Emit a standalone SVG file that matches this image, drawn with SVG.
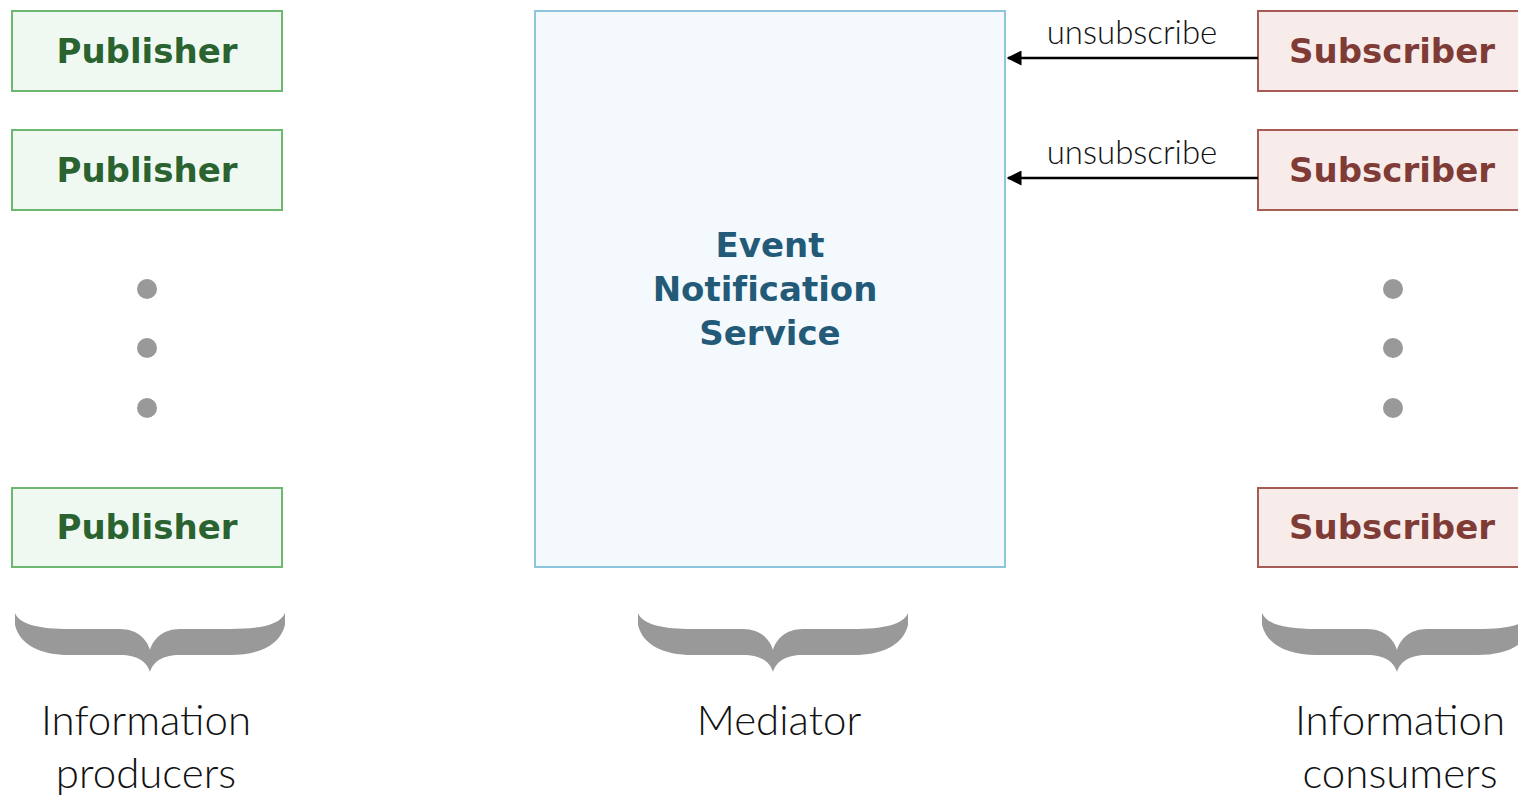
<svg xmlns="http://www.w3.org/2000/svg" width="1518" height="795" viewBox="0 0 1518 795">
<style>
.pub rect{fill:#f0f9f1;stroke:#6db871;stroke-width:2}
.sub rect{fill:#f8ecea;stroke:#a85a55;stroke-width:2}
.med rect{fill:#f4f9fe;stroke:#8ec5dc;stroke-width:2}
.pub text,.sub text,.med text{font-family:"DejaVu Sans",Lato,sans-serif;font-weight:bold;font-size:34px;text-anchor:middle;font-variant-ligatures:none}
.pub text{fill:#2a6230}
.sub text{fill:#7f3b35}
.med text{fill:#235a78}
.dot{fill:#999}
.brace{fill:#999}
.lbl{fill:#111;font-family:Lato,"Open Sans",sans-serif;font-weight:300;font-size:42px;text-anchor:middle}
.elbl{fill:#111;font-family:Lato,"Open Sans",sans-serif;font-weight:300;font-size:33px;text-anchor:middle}
.conn line{stroke:#000;stroke-width:2.5;marker-end:url(#ah)}
</style>
<defs>
<marker id="ah" viewBox="0 0 10 10" refX="9" refY="5" markerWidth="6" markerHeight="6" orient="auto" markerUnits="strokeWidth">
<path d="M0,0 L10,5 L0,10 Z" fill="#000"/>
</marker>
<path id="br" d="M-135,613 C-130,625 -110,629 -80,629 L-30,629 C-12,629 -3,640 0,650 C3,640 12,629 30,629 L80,629 C110,629 130,625 135,613 L135,625 C130,645 110,655 80,655 L30,655 C12,655 3,662 0,672 C-3,662 -12,655 -30,655 L-80,655 C-110,655 -130,645 -135,625 Z"/>
</defs>
<rect width="1518" height="795" fill="#fff"/>
<g id="pub1" class="pub"><rect x="12" y="11" width="270" height="80"/><text x="147" y="63">Publisher</text></g>
<g id="pub2" class="pub"><rect x="12" y="130" width="270" height="80"/><text x="147" y="182">Publisher</text></g>
<g id="pub3" class="pub"><rect x="12" y="488" width="270" height="79"/><text x="147" y="539">Publisher</text></g>
<g id="mediator" class="med"><rect x="535" y="11" width="470" height="556"/>
<text x="770" y="257">Event</text><text x="765" y="301">Notification</text><text x="770" y="345">Service</text></g>
<g id="sub1" class="sub"><rect x="1258" y="11" width="280" height="80"/><text x="1392" y="63">Subscriber</text></g>
<g id="sub2" class="sub"><rect x="1258" y="130" width="280" height="80"/><text x="1392" y="182">Subscriber</text></g>
<g id="sub3" class="sub"><rect x="1258" y="488" width="280" height="79"/><text x="1392" y="539">Subscriber</text></g>
<g id="dots-left"><circle class="dot" cx="147" cy="289" r="10"/><circle class="dot" cx="147" cy="348" r="10"/><circle class="dot" cx="147" cy="408" r="10"/></g>
<g id="dots-right"><circle class="dot" cx="1393" cy="289" r="10"/><circle class="dot" cx="1393" cy="348" r="10"/><circle class="dot" cx="1393" cy="408" r="10"/></g>
<g id="connectors" class="conn">
<line x1="1258" y1="58" x2="1008" y2="58"/>
<line x1="1258" y1="178" x2="1008" y2="178"/>
<text class="elbl" x="1132" y="44">unsubscribe</text>
<text class="elbl" x="1132" y="164">unsubscribe</text>
</g>
<g id="brace-left"><use href="#br" class="brace" transform="translate(150,0)"/><text class="lbl" x="146" y="735">Information</text><text class="lbl" x="146" y="788">producers</text></g>
<g id="brace-mid"><use href="#br" class="brace" transform="translate(773,0)"/><text class="lbl" x="779" y="735">Mediator</text></g>
<g id="brace-right"><use href="#br" class="brace" transform="translate(1397,0)"/><text class="lbl" x="1400" y="735">Information</text><text class="lbl" x="1400" y="788">consumers</text></g>
</svg>
